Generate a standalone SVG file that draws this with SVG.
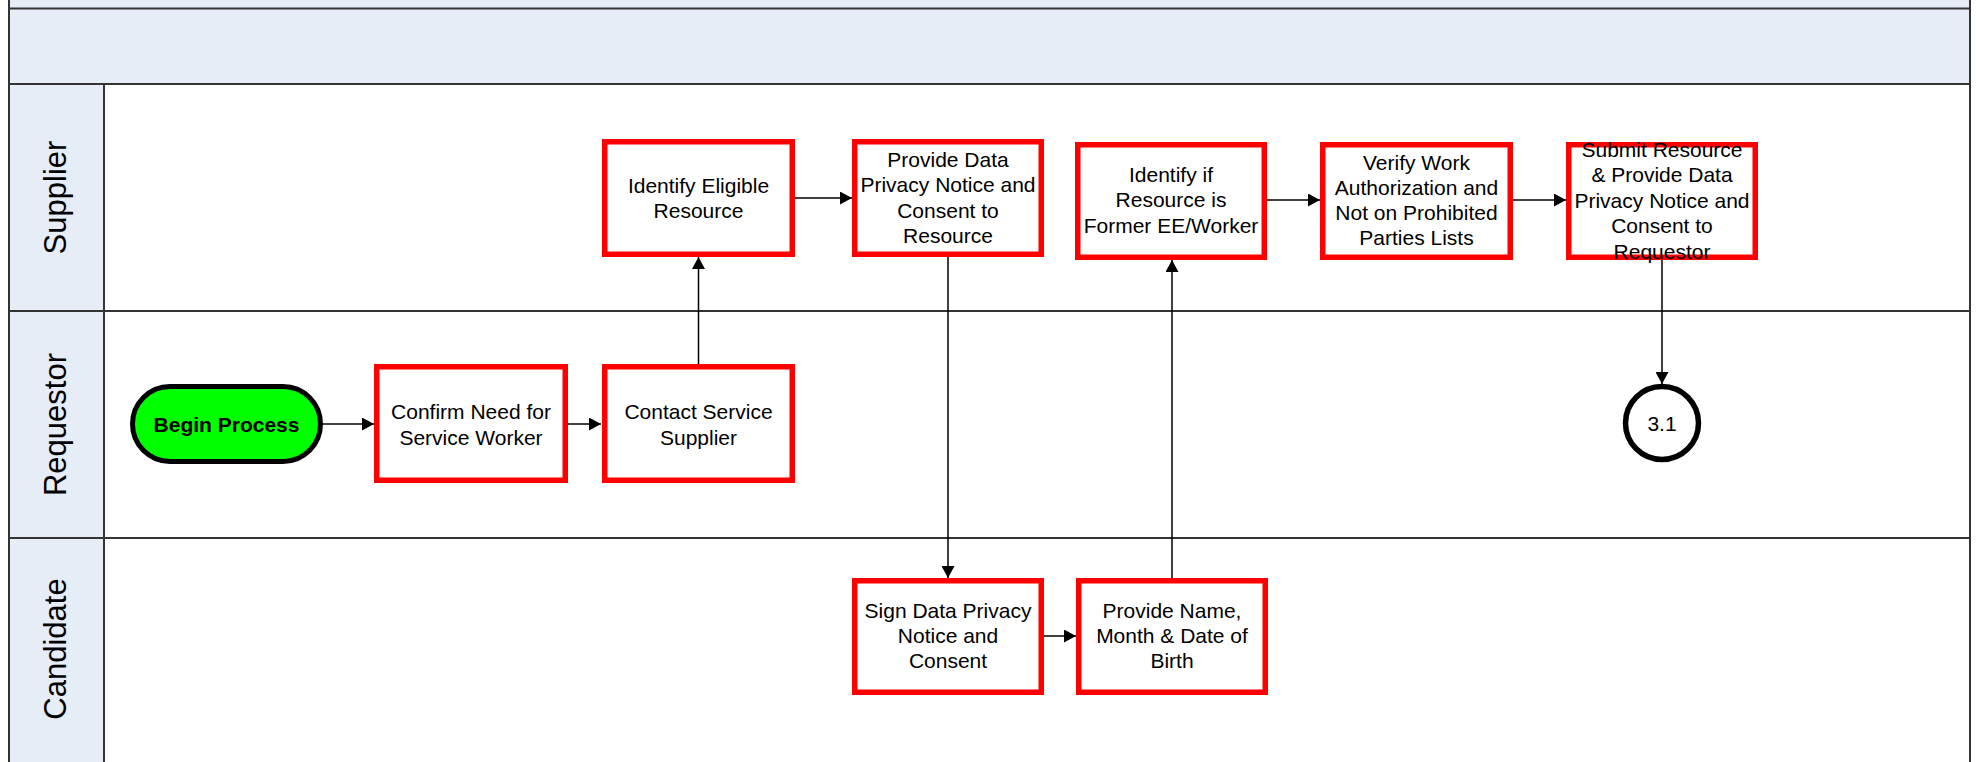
<svg xmlns="http://www.w3.org/2000/svg" width="1976" height="762" viewBox="0 0 1976 762">
<style>
.lane{fill:#E6EDF7;stroke:none}
.ln{stroke:#333;stroke-width:2;fill:none}
.box{fill:#fff;stroke:#FF0000;stroke-width:5.5}
.t{font-family:"Liberation Sans",Arial,sans-serif;font-size:21px;fill:#000;text-anchor:middle}
.lbl{font-family:"Liberation Sans",Arial,sans-serif;font-size:31px;fill:#000;text-anchor:middle}
.c{stroke:#000;stroke-width:1.5;fill:none;marker-end:url(#ah)}
</style>
<defs>
<marker id="ah" markerUnits="userSpaceOnUse" markerWidth="12" markerHeight="13" refX="12" refY="6.5" orient="auto">
<path d="M0,0 L12,6.5 L0,13 z" fill="#000"/>
</marker>
</defs>
<rect width="1976" height="762" fill="#fff"/>
<g id="pool">
<rect class="lane" x="9" y="0" width="1961" height="84"/>
<rect class="lane" x="9" y="84" width="95" height="678"/>
<line class="ln" x1="9" y1="8.5" x2="1970" y2="8.5"/>
<line class="ln" x1="9" y1="84" x2="1970" y2="84"/>
<line class="ln" x1="9" y1="311" x2="1970" y2="311"/>
<line class="ln" x1="9" y1="538" x2="1970" y2="538"/>
<line class="ln" x1="9" y1="0" x2="9" y2="762"/>
<line class="ln" x1="104" y1="84" x2="104" y2="762"/>
<line class="ln" x1="1970" y1="0" x2="1970" y2="762"/>
<text class="lbl" transform="rotate(-90 66 197.5)" x="66" y="197.5">Supplier</text>
<text class="lbl" transform="rotate(-90 66 424.5)" x="66" y="424.5">Requestor</text>
<text class="lbl" transform="rotate(-90 66 649)" x="66" y="649">Candidate</text>
</g>
<g id="connectors">
<path class="c" d="M323,424 H374"/>
<path class="c" d="M568,424 H601"/>
<path class="c" d="M698.5,364 V257"/>
<path class="c" d="M795,198 H852"/>
<path class="c" d="M948,257 V578"/>
<path class="c" d="M1044,636 H1076"/>
<path class="c" d="M1172,578 V260"/>
<path class="c" d="M1267,200 H1320"/>
<path class="c" d="M1513,200 H1566"/>
<path class="c" d="M1662,260 V384"/>
</g>
<g id="begin">
<rect x="132.5" y="386.5" width="188" height="75" rx="37.5" fill="#00FF00" stroke="#000" stroke-width="5"/>
<text class="t" x="226.5" y="431.5" font-weight="bold">Begin Process</text>
</g>
<g id="confirm">
<rect class="box" x="376.75" y="366.75" width="188.5" height="113.5"/>
<text class="t" x="471" y="418.5">Confirm Need for</text>
<text class="t" x="471" y="444.5">Service Worker</text>
</g>
<g id="contact">
<rect class="box" x="604.75" y="366.75" width="187.5" height="113.5"/>
<text class="t" x="698.5" y="418.5">Contact Service</text>
<text class="t" x="698.5" y="444.5">Supplier</text>
</g>
<g id="identify-eligible">
<rect class="box" x="604.75" y="141.75" width="187.5" height="112.5"/>
<text class="t" x="698.5" y="193">Identify Eligible</text>
<text class="t" x="698.5" y="218">Resource</text>
</g>
<g id="provide-data">
<rect class="box" x="854.75" y="141.75" width="186.5" height="112.5"/>
<text class="t" x="948" y="166.5">Provide Data</text>
<text class="t" x="948" y="192">Privacy Notice and</text>
<text class="t" x="948" y="217.5">Consent to</text>
<text class="t" x="948" y="243">Resource</text>
</g>
<g id="identify-former">
<rect class="box" x="1077.75" y="144.75" width="186.5" height="112.5"/>
<text class="t" x="1171" y="181.5">Identify if</text>
<text class="t" x="1171" y="207">Resource is</text>
<text class="t" x="1171" y="232.5">Former EE/Worker</text>
</g>
<g id="verify">
<rect class="box" x="1322.75" y="144.75" width="187.5" height="112.5"/>
<text class="t" x="1416.5" y="169.5">Verify Work</text>
<text class="t" x="1416.5" y="194.5">Authorization and</text>
<text class="t" x="1416.5" y="220">Not on Prohibited</text>
<text class="t" x="1416.5" y="245">Parties Lists</text>
</g>
<g id="submit">
<rect class="box" x="1568.75" y="144.75" width="186.5" height="112.5"/>
<text class="t" x="1662" y="156.5">Submit Resource</text>
<text class="t" x="1662" y="182">&amp; Provide Data</text>
<text class="t" x="1662" y="207.5">Privacy Notice and</text>
<text class="t" x="1662" y="233">Consent to</text>
<text class="t" x="1662" y="258.5">Requestor</text>
</g>
<g id="offpage-3-1">
<circle cx="1662" cy="423" r="36.5" fill="#fff" stroke="#000" stroke-width="5.5"/>
<text class="t" x="1662" y="430.5">3.1</text>
</g>
<g id="sign">
<rect class="box" x="854.75" y="580.75" width="186.5" height="111.5"/>
<text class="t" x="948" y="617.5">Sign Data Privacy</text>
<text class="t" x="948" y="643">Notice and</text>
<text class="t" x="948" y="668">Consent</text>
</g>
<g id="provide-name">
<rect class="box" x="1078.75" y="580.75" width="186.5" height="111.5"/>
<text class="t" x="1172" y="617.5">Provide Name,</text>
<text class="t" x="1172" y="643">Month &amp; Date of</text>
<text class="t" x="1172" y="668">Birth</text>
</g>
</svg>
